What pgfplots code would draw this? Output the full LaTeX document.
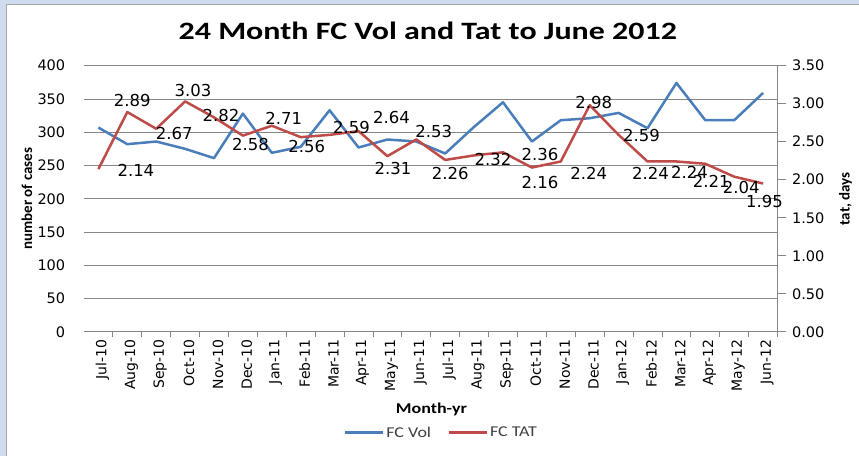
\documentclass[border=0pt]{standalone}
\usepackage{fontspec}
\usepackage{graphicx}
\usepackage{pgfplots}
\usepackage{pgfplotstable}
\pgfplotsset{compat=1.18}
\setmainfont{Carlito}
\newfontfamily\dejavu{DejaVu Sans}
\definecolor{volblue}{RGB}{74,126,187}
\definecolor{tatred}{RGB}{190,75,72}
\definecolor{gridgray}{RGB}{134,134,134}
\definecolor{slideblue}{RGB}{207,219,239}

\pgfplotsset{/pgf/number format/assume math mode=true}

% i = month index (Jul-10 = 0), vol = cases, tat = days, dx/dy = label offset (pt, dy up)
\pgfplotstableread{
i  vol  tat   dx    dy
0  307  2.14  37.5  -1.5
1  282  2.89  5     12
2  286  2.67  18    -4.5
3  275  3.03  8     11
4  261  2.82  7     2
5  328  2.58  7.5   -8.6
6  269  2.71  12    7
7  278  2.56  6     -9.5
8  333  2.59  22    7.6
9  277  2.64  33    13.4
10 289  2.31  5.6   -12
11 286  2.53  17.5  8
12 268  2.26  5     -14
13 308  2.32  19    -4.5
14 345  2.36  37    -2
15 286  2.16  8     -15
16 318  2.24  28    -12
17 321  2.98  4     3
18 329  2.59  23    -1
19 306  2.24  3     -12
20 374  2.24  13    -11
21 318  2.21  6     -18
22 318  2.04  7     -10.5
23 359  1.95  1.5   -18
}\tatdata

\begin{document}
\begin{tikzpicture}
\fill[slideblue] (0,0) rectangle (859pt,-456pt);
\fill[white] (7pt,-5pt) rectangle (859pt,-456pt);
\draw[gray!70, line width=1pt] (7pt,-456pt) -- (7pt,-5pt) -- (859pt,-5pt);
\useasboundingbox (0,0) rectangle (859pt,-456pt);

% left axis: FC Vol
\begin{axis}[
  at={(84pt,-332pt)}, anchor=south west,
  width=694pt, height=266.3pt, scale only axis,
  clip=false,
  xmin=-0.5, xmax=23.5, ymin=0, ymax=400,
  axis x line*=bottom, axis y line*=left,
  y axis line style={draw=none},
  x axis line style={gridgray, line width=0.8pt},
  ytick={0,50,...,400},
  ymajorgrids, grid style={gridgray, line width=0.8pt},
  ytick style={draw=none},
  xtick={0,...,23},
  xticklabels={Jul-10,Aug-10,Sep-10,Oct-10,Nov-10,Dec-10,Jan-11,Feb-11,Mar-11,Apr-11,May-11,Jun-11,
               Jul-11,Aug-11,Sep-11,Oct-11,Nov-11,Dec-11,Jan-12,Feb-12,Mar-12,Apr-12,May-12,Jun-12},
  major x tick style={draw=none},
  minor xtick={0.5,1.5,...,23.5},
  minor x tick style={gridgray, line width=0.8pt},
  tick align=outside, minor tick length=5pt,
  xticklabel style={font=\dejavu\fontsize{14}{16}\selectfont, rotate=90, anchor=east, yshift=-4pt},
  yticklabel style={font=\dejavu\fontsize{14.5}{17}\selectfont, xshift=-11pt},
  title={\scalebox{1.28}[1]{24 Month FC Vol and Tat to June 2012}},
  title style={at={(axis description cs:0.4957,1.108)}, anchor=center,
               font=\bfseries\fontsize{25}{30}\selectfont},
  xlabel={\scalebox{1.2}[1]{Month-yr}},
  xlabel style={at={(axis description cs:0.501,-0.293)}, anchor=center,
                font=\bfseries\fontsize{15}{18}\selectfont},
  ylabel={number of cases},
  ylabel style={at={(axis description cs:-0.0821,0.5)}, anchor=center,
                font=\bfseries\fontsize{15}{18}\selectfont},
]
\addplot[volblue, line width=2.5pt, line join=round, no markers] table[x=i, y=vol] {\tatdata};
\end{axis}

% right axis: FC TAT
\begin{axis}[
  at={(84pt,-332pt)}, anchor=south west,
  width=694pt, height=266.3pt, scale only axis,
  clip=false,
  xmin=-0.5, xmax=23.5, ymin=0, ymax=3.5,
  axis x line=none, axis y line*=right,
  y axis line style={gridgray, line width=0.8pt},
  ytick={0,0.5,...,3.5},
  ytick style={gridgray, line width=0.8pt},
  tick align=outside, major tick length=8pt,
  yticklabel style={font=\dejavu\fontsize{14.5}{17}\selectfont, xshift=3pt,
    /pgf/number format/fixed, /pgf/number format/fixed zerofill,
    /pgf/number format/precision=2},
  ylabel={tat, days},
  ylabel style={at={(axis description cs:1.098,0.5)}, anchor=center,
                font=\bfseries\fontsize{15}{18}\selectfont},
  legend columns=2,
  legend style={at={(axis description cs:0.515,-0.379)}, anchor=center, draw=none,
                fill=none, inner sep=0pt, font=\fontsize{15}{18}\selectfont, text=black!75,
                /tikz/every even column/.append style={column sep=14pt}},
  legend image code/.code={\draw[#1] (0pt,0pt) -- (38pt,0pt);},
]
\addlegendimage{volblue, line width=3pt}
\addlegendentry{\scalebox{1.2}[1]{FC Vol}}
\addplot[tatred, line width=2.5pt, line join=round, no markers,
  nodes near coords={\pgfmathprintnumber[fixed,fixed zerofill,precision=2]{\pgfplotspointmeta}},
  visualization depends on={\thisrow{dx} \as \ldx},
  visualization depends on={\thisrow{dy} \as \ldy},
  every node near coord/.append style={font=\dejavu\fontsize{16.5}{19}\selectfont,
    text=black, anchor=center, xshift=\ldx pt, yshift=\ldy pt},
  legend image post style={line width=3pt},
] table[x=i, y=tat] {\tatdata};
\addlegendentry{\scalebox{1.2}[1]{FC TAT}}
\end{axis}
\end{tikzpicture}
\end{document}
